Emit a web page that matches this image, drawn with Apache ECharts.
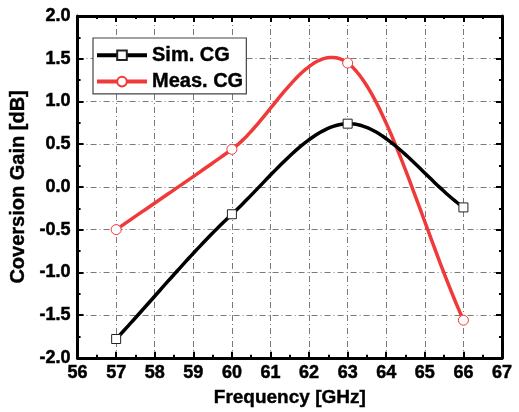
<!DOCTYPE html>
<html><head><meta charset="utf-8">
<script src="https://cdn.jsdelivr.net/npm/echarts@6/dist/echarts.min.js"></script>
<style>html,body{margin:0;padding:0;background:#fff}#c{width:519px;height:412px}</style>
</head><body><div id="c"></div>
<script>
var freqs = [57, 60, 63, 66];
var simCG = [-1.78, -0.32, 0.74, -0.24];
var measCG = [-0.5, 0.44, 1.45, -1.56];
var xLabels = [56, 57, 58, 59, 60, 61, 62, 63, 64, 65, 66, 67];
var yLabels = ['-2.0', '-1.5', '-1.0', '-0.5', '0.0', '0.5', '1.0', '1.5', '2.0'];

var font = "'Liberation Sans', Arial, sans-serif";
var red = '#f03a3a';
var gridLine = {color: '#7a7a7a', width: 1, type: [6, 3, 1, 3]};
function pairs(xs, ys){ return xs.map(function(x, i){ return [x, ys[i]]; }); }

// cubic Hermite (Catmull-Rom style) connecting curve through the data points
function tangents(xs, ys){
  var n = xs.length, m = [];
  for (var i = 0; i < n; i++){
    if (i === 0) m.push((ys[1] - ys[0]) / (xs[1] - xs[0]));
    else if (i === n - 1) m.push((ys[n-1] - ys[n-2]) / (xs[n-1] - xs[n-2]));
    else m.push((ys[i+1] - ys[i-1]) / (xs[i+1] - xs[i-1]));
  }
  return m;
}
function curveRender(xs, ys, color){
  var m = tangents(xs, ys);
  return function(params, api){
    if (params.dataIndex !== 0) return null;
    var pts = [];
    for (var i = 0; i < xs.length - 1; i++){
      var h = xs[i+1] - xs[i];
      for (var s = 0; s <= 40; s++){
        if (i > 0 && s === 0) continue;
        var t = s / 40, t2 = t * t, t3 = t2 * t;
        var y = (2*t3 - 3*t2 + 1) * ys[i] + (t3 - 2*t2 + t) * h * m[i]
              + (-2*t3 + 3*t2) * ys[i+1] + (t3 - t2) * h * m[i+1];
        pts.push(api.coord([xs[i] + h * t, y]));
      }
    }
    return {type: 'polyline', shape: {points: pts},
      style: {stroke: color, lineWidth: 3.5, fill: null, lineJoin: 'round', lineCap: 'round'}};
  };
}

var axisLineStyle = {color: '#000', width: 3};
var tickStyle = {width: 2, color: '#000'};
var labelBase = {fontFamily: font, fontWeight: 'bold', fontSize: 18, color: '#000',
  textBorderColor: '#000', textBorderWidth: 0.5};

var chart = echarts.init(document.getElementById('c'));
chart.setOption({
  animation: false,
  backgroundColor: '#fff',
  grid: {left: 77, right: 17, top: 16, bottom: 52},
  legend: {
    left: 93, top: 38, orient: 'vertical',
    backgroundColor: '#fff',
    borderColor: '#444', borderWidth: 1.2, padding: [7, 3, 2, 2], itemGap: 6,
    itemWidth: 50, itemHeight: 12,
    textStyle: {fontFamily: font, fontWeight: 'bold', fontSize: 20, color: '#000',
      textBorderColor: '#000', textBorderWidth: 0.4},
    data: [
      {name: 'Sim. CG', lineStyle: {color: '#000', width: 4, opacity: 1}},
      {name: 'Meas. CG', lineStyle: {color: red, width: 4, opacity: 1}}
    ]
  },
  xAxis: [{
    type: 'value', min: 56, max: 67, interval: 1,
    name: 'Frequency [GHz]', nameLocation: 'middle', nameGap: 30,
    nameTextStyle: {fontFamily: font, fontWeight: 'bold', fontSize: 19, color: '#000',
      textBorderColor: '#000', textBorderWidth: 0.4},
    axisLine: {onZero: false, lineStyle: axisLineStyle},
    axisTick: {inside: true, length: 6, lineStyle: tickStyle},
    minorTick: {show: true, splitNumber: 2, length: 3, lineStyle: tickStyle},
    axisLabel: Object.assign({margin: 6,
      formatter: function(v){ return xLabels.indexOf(v) >= 0 ? String(v) : ''; }}, labelBase),
    splitLine: {show: true, lineStyle: gridLine}
  }, {
    type: 'value', min: 56, max: 67, interval: 1, position: 'top',
    axisLine: {onZero: false, lineStyle: axisLineStyle},
    axisTick: {inside: true, length: 6, lineStyle: tickStyle},
    minorTick: {show: true, splitNumber: 2, length: 3, lineStyle: tickStyle},
    axisLabel: {show: false}, splitLine: {show: false}
  }],
  yAxis: [{
    type: 'value', min: -2, max: 2, interval: 0.5,
    name: 'Coversion Gain [dB]', nameLocation: 'middle', nameGap: 42,
    nameTextStyle: {fontFamily: font, fontWeight: 'bold', fontSize: 20, color: '#000',
      textBorderColor: '#000', textBorderWidth: 0.4},
    axisLine: {show: true, onZero: false, lineStyle: axisLineStyle},
    axisTick: {show: true, inside: true, length: 6, lineStyle: tickStyle},
    minorTick: {show: true, splitNumber: 2, length: 3, lineStyle: tickStyle},
    axisLabel: Object.assign({margin: 7,
      formatter: function(v){ return yLabels[Math.round((v + 2) / 0.5)]; }}, labelBase),
    splitLine: {show: true, lineStyle: gridLine}
  }, {
    type: 'value', min: -2, max: 2, interval: 0.5, position: 'right',
    axisLine: {show: true, onZero: false, lineStyle: axisLineStyle},
    axisTick: {show: true, inside: true, length: 6, lineStyle: tickStyle},
    minorTick: {show: true, splitNumber: 2, length: 3, lineStyle: tickStyle},
    axisLabel: {show: false}, splitLine: {show: false}
  }],
  series: [{
    type: 'custom', name: 'simCurve', data: pairs(freqs, simCG),
    renderItem: curveRender(freqs, simCG, '#000'), z: 3, silent: true
  }, {
    type: 'custom', name: 'measCurve', data: pairs(freqs, measCG),
    renderItem: curveRender(freqs, measCG, red), z: 2, silent: true
  }, {
    name: 'Sim. CG', type: 'line',
    data: pairs(freqs, simCG),
    symbol: 'rect', symbolSize: 9,
    lineStyle: {color: '#000', width: 4, opacity: 0},
    itemStyle: {color: '#fff', borderColor: '#222', borderWidth: 1},
    z: 5
  }, {
    name: 'Meas. CG', type: 'line',
    data: pairs(freqs, measCG),
    symbol: 'circle', symbolSize: 10,
    lineStyle: {color: red, width: 4, opacity: 0},
    itemStyle: {color: '#fff', borderColor: red, borderWidth: 1},
    z: 4
  }]
});
</script></body></html>
